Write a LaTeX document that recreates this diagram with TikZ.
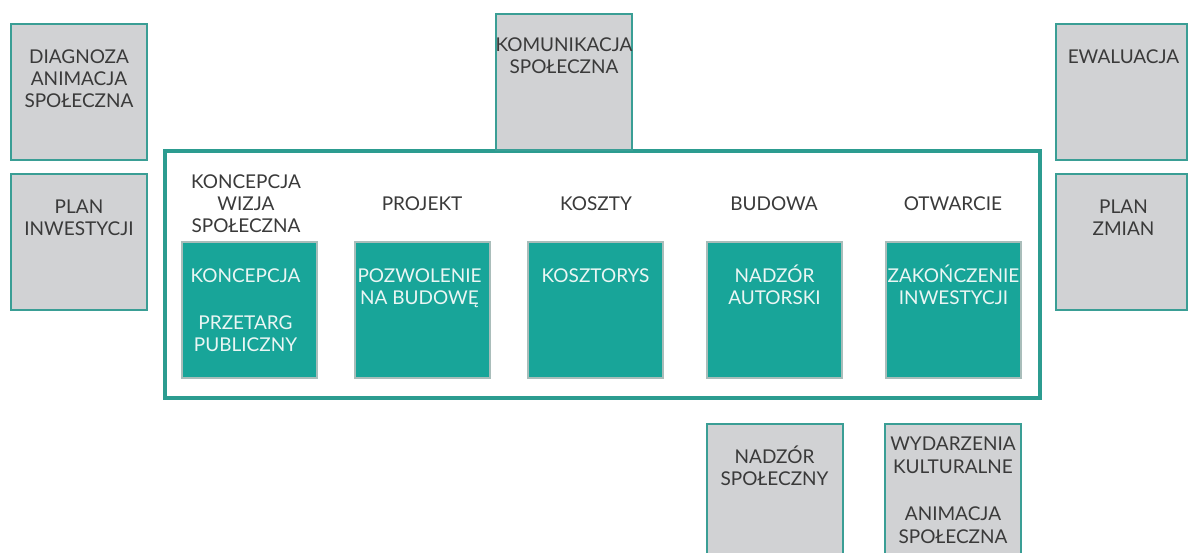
\documentclass[tikz,border=0pt]{standalone}
\usepackage{fontspec}
\setmainfont{Lato}
\definecolor{tealfill}{HTML}{18A599}
\definecolor{tealline}{HTML}{3A9E95}
\definecolor{framecol}{HTML}{2C9C90}
\definecolor{panelgray}{HTML}{D1D2D4}
\definecolor{boxedge}{HTML}{A9BDBA}
\definecolor{inkgray}{HTML}{3A3A3A}
\definecolor{paletext}{HTML}{EAF6F4}
% uniform height of the first line, so accented capitals do not shift it
\newcommand{\firstline}{\rule{0pt}{18.5pt}}
\tikzset{
  graybox/.style={draw=tealline, line width=2pt, fill=panelgray, inner sep=0pt,
    minimum width=136pt, minimum height=136pt},
  stagebox/.style={draw=boxedge, line width=1.3pt, fill=tealfill, inner sep=0pt,
    minimum width=135pt, minimum height=136pt},
  txt/.style={inner sep=0pt, align=center, text=inkgray,
    font=\fontsize{19}{22}\selectfont},
  toptxt/.style={txt, anchor=north},
  stagetxt/.style={toptxt, text=paletext},
}
\begin{document}
\begin{tikzpicture}[x=1pt, y=-1pt]
\clip (0,0) rectangle (1188,553);
\fill[white] (0,0) rectangle (1188,553);

% main frame around the five stages
\draw[framecol, line width=4pt] (165,151) rectangle (1040,398);

% side panels
\node[graybox] (diag) at (79,92) {};
\node[graybox] (plan) at (79,242) {};
\node[graybox] (komun) at (564,82) {};
\node[graybox, minimum width=131pt] (ewal) at (1121.5,92) {};
\node[graybox, minimum width=131pt] (zmian) at (1121.5,242) {};
\node[graybox] (nadzs) at (774.5,492) {};
\node[graybox] (wyd) at (953,492) {};

\node[toptxt] (tdiag) at ([yshift=-22pt]diag.north) {\firstline DIAGNOZA\\ANIMACJA\\SPOŁECZNA};
\node[toptxt] (tplan) at ([yshift=-22pt]plan.north) {\firstline PLAN\\INWESTYCJI};
\node[toptxt] (tkomun) at ([yshift=-20pt]komun.north) {\firstline KOMUNIKACJA\\SPOŁECZNA};
\node[toptxt] (tewal) at ([xshift=2pt,yshift=-22pt]ewal.north) {\firstline EWALUACJA};
\node[toptxt] (tzmian) at ([xshift=2pt,yshift=-22pt]zmian.north) {\firstline PLAN\\ZMIAN};
\node[toptxt] (tnadzs) at ([yshift=-22pt]nadzs.north) {\firstline NADZÓR\\SPOŁECZNY};
\node[toptxt, font=\fontsize{19}{23}\selectfont] (twyd) at ([yshift=-9pt]wyd.north)
  {\firstline WYDARZENIA\\KULTURALNE\\[24pt]ANIMACJA\\SPOŁECZNA};

% stage headings
\node[txt] (h1) at (246,204) {KONCEPCJA\\WIZJA\\SPOŁECZNA};
\node[txt] (h2) at (422,204) {PROJEKT};
\node[txt] (h3) at (596,204) {KOSZTY};
\node[txt] (h4) at (774,204) {BUDOWA};
\node[txt] (h5) at (953,204) {OTWARCIE};

% stage boxes
\node[stagebox] (s1) at (249.5,310) {};
\node[stagebox] (s2) at (422.5,310) {};
\node[stagebox] (s3) at (595.5,310) {};
\node[stagebox] (s4) at (774.5,310) {};
\node[stagebox] (s5) at (953.5,310) {};

\node[stagetxt] (t1) at ([xshift=-4pt,yshift=-22pt]s1.north) {\firstline KONCEPCJA\\[25pt]PRZETARG\\PUBLICZNY};
\node[stagetxt] (t2) at ([xshift=-3pt,yshift=-22pt]s2.north) {\firstline POZWOLENIE\\NA BUDOWĘ};
\node[stagetxt] (t3) at ([yshift=-22pt]s3.north) {\firstline KOSZTORYS};
\node[stagetxt] (t4) at ([yshift=-22pt]s4.north) {\firstline NADZÓR\\AUTORSKI};
\node[stagetxt] (t5) at ([yshift=-22pt]s5.north) {\firstline ZAKOŃCZENIE\\INWESTYCJI};
\end{tikzpicture}
\end{document}
